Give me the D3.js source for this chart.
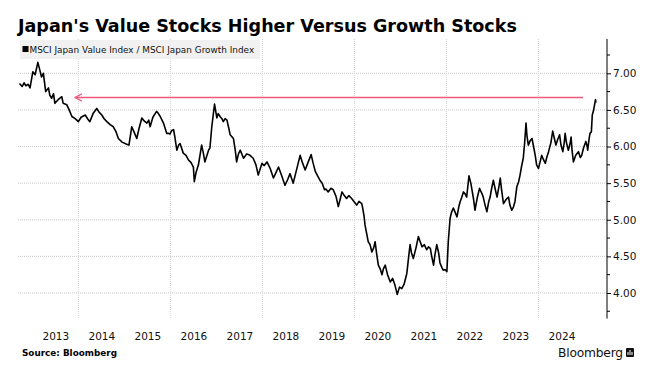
<!DOCTYPE html>
<html>
<head>
<meta charset="utf-8">
<script src="https://cdn.jsdelivr.net/npm/d3@7"></script>
<style>
  body { margin: 0; background: #fff; }
  svg { display: block; }
  text { font-family: "DejaVu Sans", Verdana, sans-serif; }
</style>
</head>
<body>
<div id="chart"></div>
<script>
// decimal years and ratio values
const years = [2012.72,2012.78,2012.82,2012.86,2012.91,2012.95,2013.01,2013.06,2013.12,2013.16,2013.20,2013.24,2013.29,2013.35,2013.38,2013.42,2013.46,2013.49,2013.56,2013.64,2013.67,2013.75,2013.80,2013.86,2013.93,
  2014.00,2014.06,2014.15,2014.20,2014.25,2014.32,2014.40,2014.45,2014.51,2014.56,2014.62,2014.69,2014.76,2014.82,2014.87,2014.95,
  2015.05,2015.10,2015.16,2015.21,2015.27,2015.32,2015.38,2015.43,2015.49,2015.53,2015.56,2015.62,2015.70,2015.74,2015.78,2015.85,2015.92,2015.96,2015.99,
  2016.03,2016.07,2016.10,2016.14,2016.18,2016.21,2016.28,2016.34,2016.39,2016.45,2016.50,2016.52,2016.56,2016.61,2016.68,2016.72,2016.75,2016.83,2016.86,2016.90,2016.96,
  2017.01,2017.04,2017.08,2017.12,2017.15,2017.19,2017.23,2017.27,2017.30,2017.37,2017.41,2017.44,2017.48,2017.52,2017.59,2017.66,2017.73,2017.80,2017.86,2017.91,2017.99,
  2018.04,2018.10,2018.17,2018.24,2018.30,2018.35,2018.42,2018.49,2018.55,2018.60,2018.67,2018.73,2018.82,2018.87,2018.93,2018.99,
  2019.06,2019.10,2019.15,2019.20,2019.25,2019.30,2019.35,2019.38,2019.43,2019.49,2019.54,2019.60,2019.65,2019.69,2019.73,2019.78,2019.83,2019.88,2019.94,2019.99,
  2020.05,2020.10,2020.16,2020.18,2020.21,2020.23,2020.27,2020.30,2020.34,2020.38,2020.42,2020.45,2020.48,2020.52,2020.56,2020.60,2020.63,2020.67,2020.72,2020.78,2020.83,2020.88,2020.93,2020.98,
  2021.03,2021.08,2021.14,2021.18,2021.21,2021.24,2021.28,2021.34,2021.39,2021.43,2021.47,2021.52,2021.57,2021.61,2021.65,2021.68,2021.72,2021.75,2021.79,2021.83,2021.86,2021.90,2021.93,2021.97,
  2022.01,2022.04,2022.08,2022.11,2022.15,2022.19,2022.23,2022.27,2022.30,2022.33,2022.37,2022.41,2022.44,2022.49,2022.53,2022.55,2022.59,2022.62,2022.67,2022.72,2022.73,2022.77,2022.80,2022.84,2022.88,2022.92,2022.95,2022.98,
  2023.02,2023.06,2023.10,2023.14,2023.17,2023.20,2023.24,2023.30,2023.35,2023.38,2023.42,2023.46,2023.49,2023.53,2023.57,2023.60,2023.63,2023.67,2023.70,2023.73,2023.75,2023.78,2023.82,2023.86,2023.90,2023.93,2023.96,
  2024.00,2024.04,2024.07,2024.11,2024.15,2024.18,2024.22,2024.27,2024.31,2024.35,2024.38,2024.42,2024.46,2024.49,2024.53,2024.56,2024.58,2024.61,2024.65,2024.69,2024.71,2024.73,2024.76,2024.81,2024.87,2024.91,2024.94,2024.98,
  2025.03,2025.06,2025.07,2025.10,2025.12,2025.15,2025.17,2025.20,2025.24,2025.25];

const ratio = [6.86,6.82,6.87,6.83,6.85,6.80,7.02,6.98,7.15,7.05,6.95,7.00,6.75,6.80,6.70,6.66,6.72,6.59,6.64,6.68,6.59,6.57,6.50,6.41,6.38,
  6.34,6.40,6.43,6.38,6.34,6.45,6.52,6.47,6.43,6.38,6.34,6.30,6.27,6.20,6.11,6.06,
  6.03,6.02,6.27,6.20,6.11,6.25,6.39,6.35,6.32,6.36,6.27,6.40,6.48,6.45,6.41,6.32,6.18,6.18,6.17,
  6.22,6.23,6.12,5.95,6.02,6.04,5.91,5.88,5.82,5.78,5.72,5.52,5.65,5.75,6.02,5.90,5.79,5.95,5.98,6.27,6.58,
  6.39,6.45,6.41,6.38,6.34,6.38,6.36,6.25,6.16,6.11,5.95,5.79,5.90,5.95,5.84,5.90,5.88,5.84,5.75,5.61,5.77,
  5.74,5.79,5.70,5.57,5.65,5.72,5.60,5.47,5.55,5.63,5.50,5.65,5.88,5.78,5.68,5.78,
  5.89,5.78,5.66,5.60,5.54,5.50,5.41,5.42,5.38,5.43,5.41,5.32,5.18,5.28,5.38,5.33,5.29,5.33,5.29,5.25,
  5.20,5.25,5.22,5.16,5.05,4.93,4.80,4.70,4.66,4.56,4.62,4.70,4.55,4.38,4.33,4.25,4.33,4.38,4.25,4.15,4.20,4.11,3.98,4.08,
  4.06,4.12,4.27,4.50,4.66,4.55,4.47,4.62,4.77,4.70,4.63,4.66,4.59,4.63,4.61,4.50,4.38,4.52,4.66,4.55,4.41,4.35,4.31,4.32,
  4.29,4.70,5.02,5.10,5.16,5.10,5.04,5.18,5.25,5.30,5.38,5.35,5.31,5.60,5.50,5.43,5.28,5.13,5.30,5.43,5.41,5.36,5.31,5.20,5.11,5.25,5.31,5.42,
  5.54,5.42,5.31,5.45,5.57,5.40,5.22,5.28,5.31,5.20,5.13,5.18,5.25,5.45,5.52,5.61,5.72,5.84,6.05,6.32,6.15,6.02,6.08,6.11,5.98,5.88,5.75,
  5.70,5.80,5.88,5.82,5.77,5.85,5.93,6.05,6.21,6.10,6.02,6.10,6.16,6.02,5.93,6.05,6.18,6.05,5.95,6.05,6.13,5.95,5.79,5.88,5.93,5.85,5.88,5.98,
  6.07,6.00,5.95,6.10,6.18,6.20,6.43,6.50,6.64,6.60];

const yearLabels = [2013,2014,2015,2016,2017,2018,2019,2020,2021,2022,2023,2024];
const gridYears = [2014,2016,2018,2020,2022,2024];
const yTicks = [4.0,4.5,5.0,5.5,6.0,6.5,7.0];
const yMinor = [3.75,4.25,4.75,5.25,5.75,6.25,6.75,7.25];
// pink reference arrow: level and span
const arrowLevel = 6.67;
const arrowFrom = 2024.97;
const arrowTo = 2013.93;

const W = 661, H = 375;
const svg = d3.select("#chart").append("svg").attr("width", W).attr("height", H);

const x = d3.scaleLinear().domain([2012.71, 2025.49]).range([19, 607]);
const y = d3.scaleLinear().domain([3.65, 7.47]).range([318.6, 38.9]);

// title
const title = svg.append("text")
  .attr("x", 18).attr("y", 32)
  .attr("font-size", 19).attr("font-weight", "bold").attr("fill", "#000")
  .text("Japan's Value Stocks Higher Versus Growth Stocks");
fitWidth(title, 499);

// grid
svg.append("g").selectAll("line").data(yTicks).join("line")
  .attr("x1", 18).attr("x2", 607)
  .attr("y1", d => y(d)).attr("y2", d => y(d))
  .attr("stroke", "#c8c8c8").attr("stroke-dasharray", "1,1");
svg.append("g").selectAll("line").data(gridYears).join("line")
  .attr("x1", d => x(d)).attr("x2", d => x(d))
  .attr("y1", 39).attr("y2", 318)
  .attr("stroke", "#d4d4d4").attr("stroke-dasharray", "1,1");

// legend box
svg.append("rect").attr("x", 20).attr("y", 40).attr("width", 240).attr("height", 19)
  .attr("fill", "#eeeeee").attr("opacity", 0.85);
svg.append("rect").attr("x", 22.5).attr("y", 46).attr("width", 6).attr("height", 6).attr("fill", "#000");
const leg = svg.append("text").attr("x", 29.5).attr("y", 53)
  .attr("font-size", 10).attr("fill", "#111")
  .text("MSCI Japan Value Index / MSCI Japan Growth Index");
fitWidth(leg, 225);

// series
const data = years.map((t, i) => ({ t: t, v: ratio[i] }));
svg.append("path").datum(data)
  .attr("fill", "none").attr("stroke", "#000").attr("stroke-width", 1.6)
  .attr("stroke-linejoin", "round")
  .attr("d", d3.line().x(d => x(d.t)).y(d => y(d.v)));

// arrow
const ay = y(arrowLevel);
svg.append("line")
  .attr("x1", x(arrowFrom)).attr("x2", x(arrowTo))
  .attr("y1", ay).attr("y2", ay)
  .attr("stroke", "#f0587a").attr("stroke-width", 1.5);
svg.append("path")
  .attr("d", `M${x(arrowTo) + 6.7},${ay - 3.6}L${x(arrowTo)},${ay}L${x(arrowTo) + 6.7},${ay + 3.6}`)
  .attr("fill", "none").attr("stroke", "#f0587a").attr("stroke-width", 1.3);

// y axis on the right
const yAxis = svg.append("g").attr("transform", "translate(607,0)")
  .call(d3.axisRight(y).tickValues(yTicks).tickSize(4).tickPadding(2).tickFormat(d3.format(".2f")));
yAxis.select(".domain").attr("d", `M0,${y.range()[0]}V${y.range()[1]}`).attr("stroke", "#000");
yAxis.selectAll(".tick text").attr("font-size", 10.5).attr("fill", "#111")
  .attr("font-family", '"DejaVu Sans", Verdana, sans-serif');
yAxis.selectAll(".minor").data(yMinor).join("line").attr("class", "minor")
  .attr("x1", 0).attr("x2", 3).attr("y1", d => y(d)).attr("y2", d => y(d))
  .attr("stroke", "#000");

// x labels at mid year
const xAxis = svg.append("g").attr("transform", "translate(0,333)")
  .call(d3.axisBottom(x).tickValues(yearLabels.map(d => d + 0.5)).tickSize(0).tickPadding(0)
    .tickFormat(d => String(Math.floor(d))));
xAxis.select(".domain").remove();
xAxis.selectAll(".tick text").attr("font-size", 10.5).attr("fill", "#111")
  .attr("font-family", '"DejaVu Sans", Verdana, sans-serif');

// footer
const src = svg.append("text").attr("x", 22).attr("y", 356)
  .attr("font-size", 9.5).attr("font-weight", "bold").attr("fill", "#000")
  .text("Source: Bloomberg");
fitWidth(src, 95);
const bb = svg.append("text").attr("x", 558).attr("y", 357)
  .attr("font-size", 12.5).attr("font-weight", 500).attr("fill", "#111")
  .attr("font-family", "Roboto, sans-serif").attr("letter-spacing", -0.2)
  .text("Bloomberg");
fitWidth(bb, 65);
// small logo mark
svg.append("rect").attr("x", 626).attr("y", 348).attr("width", 8).attr("height", 9).attr("rx", 1).attr("fill", "#111");
svg.append("g").selectAll("rect").data([0, 1, 2]).join("rect")
  .attr("x", d => 627.5 + d * 2).attr("y", d => 350 + (d === 1 ? 0 : 2))
  .attr("width", 1).attr("height", d => d === 1 ? 5 : 3).attr("fill", "#fff");

function fitWidth(sel, target) {
  const w = sel.node().getComputedTextLength();
  const fs = +sel.attr("font-size");
  if (w > 0) sel.attr("font-size", fs * target / w);
}
</script>
</body>
</html>
